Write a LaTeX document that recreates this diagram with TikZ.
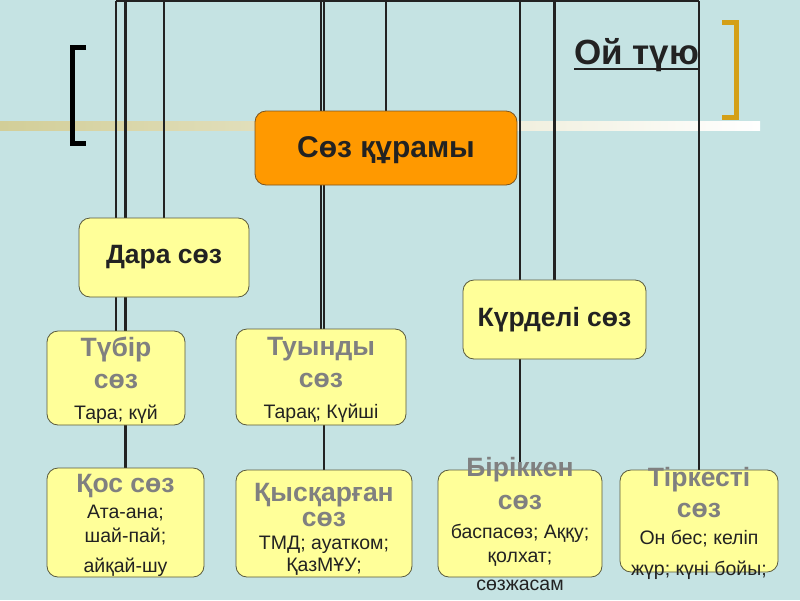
\documentclass[tikz,border=0pt]{standalone}
\usepackage{fontspec}
\setmainfont{Liberation Sans}
\usepackage{xcolor}
\usetikzlibrary{backgrounds}

\definecolor{slidebg}{HTML}{C5E3E3}
\definecolor{boxfill}{HTML}{FFFF99}
\definecolor{boxline}{HTML}{5A5A3C}
\definecolor{rootfill}{HTML}{FF9900}
\definecolor{rootline}{HTML}{7A5420}
\definecolor{titlegray}{HTML}{808080}
\definecolor{inktext}{HTML}{222222}
\definecolor{bandtan}{HTML}{D2CE98}
\definecolor{goldbar}{HTML}{D4A017}

% example lines under the gray titles
\newcommand{\exline}[1]{{\fontsize{19.5}{22}\selectfont\mdseries\color{inktext}#1}}

\begin{document}
\begin{tikzpicture}[x=1pt, y=-1pt,
          wire/.style={draw=inktext, line width=2.2pt},
          box/.style={draw=boxline, fill=boxfill, line width=0.8pt, rounded corners=11pt, inner sep=0pt},
          rootbox/.style={draw=rootline, fill=rootfill, line width=0.8pt, rounded corners=11pt, inner sep=0pt},
          head/.style={font=\bfseries\fontsize{26.5}{30}\selectfont, text=inktext, align=center},
          word/.style={font=\bfseries\fontsize{26.5}{30}\selectfont, text=titlegray, align=center, inner sep=0pt}
        ]
        \useasboundingbox (0,0) rectangle (800,600);

        % Root and middle level
        \node[rootbox, minimum width=262pt, minimum height=74pt] (soz) at (386,148) {};
        \node[head, font=\bfseries\fontsize{30}{34}\selectfont] (soz-t) at ([yshift=-2pt]soz) {Сөз құрамы};
        \node[box, minimum width=170pt, minimum height=79pt] (dara) at (164,257.5) {};
        \node[head] (dara-t) at (dara) {Дара сөз};
        \node[box, minimum width=183pt, minimum height=79pt] (kurdeli) at (554.5,319.5) {};
        \node[head] (kurdeli-t) at (kurdeli) {Күрделі сөз};

        % Third row
        \node[box, minimum width=138pt, minimum height=94pt] (tubir) at (116,378) {};
        \node[word] (tubir-t) at ([yshift=-2pt]tubir) {Түбір\\[2pt]сөз\\[1pt]\exline{Тара; күй}};
        \node[box, minimum width=170pt, minimum height=96pt] (tuyndy) at (321,377) {};
        \node[word] (tuyndy-t) at ([yshift=-3pt]tuyndy) {Туынды\\[2pt]сөз\\[1pt]\exline{Тарақ; Күйші}};

        % Bottom row
        \node[box, minimum width=157pt, minimum height=109pt] (qos) at (125.5,522.5) {};
        \node[word] (qos-t) at ([yshift=-3pt]qos) {Қос сөз\\[-4pt]\exline{Ата-ана;}\\[-6pt]\exline{шай-пай;}\\[0pt]\exline{айқай-шу}};
        \node[box, minimum width=176pt, minimum height=107pt] (qysqa) at (324,523.5) {};
        \node[word] (qysqa-t) at ([yshift=-6pt]qysqa) {Қысқарған\\[-5pt]сөз\\[-7pt]\exline{ТМД; ауатком;}\\[-8pt]\exline{ҚазМҰУ;}};
        \node[box, minimum width=164pt, minimum height=107pt] (birik) at (520,523.5) {};
        \node[word] (birik-t) at (birik) {Біріккен\\[3pt]сөз\\[-1pt]\exline{баспасөз; Аққу;}\\[-6pt]\exline{қолхат;}\\[-2pt]\exline{сөзжасам}};
        \node[box, minimum width=158pt, minimum height=102pt] (tirkes) at (699,521) {};
        \node[word] (tirkes-t) at ([yshift=-2pt]tirkes) {Тіркесті\\[1pt]сөз\\[-3pt]\exline{Он бес; келіп}\\[1pt]\exline{жүр; күні бойы;}};

        % Title in the corner
        \node[font=\bfseries\fontsize{35}{38}\selectfont, text=inktext, inner sep=0pt, anchor=base west] (oitu) at (574,64) {Ой түю};
        \draw[draw=inktext, line width=2.2pt] ([yshift=-5pt]oitu.base west) -- ([yshift=-5pt]oitu.base east);

        \begin{scope}[on background layer]
          \fill[slidebg] (0,0) rectangle (800,600);
          % pale band across the slide
          \shade[left color=bandtan, right color=white] (0,121) rectangle (760,130);
          % brackets
          \draw[line width=5pt] (86,47.5) -- (72.5,47.5) -- (72.5,143.5) -- (86,143.5);
          \draw[goldbar, line width=5pt] (722,22.5) -- (736.5,22.5) -- (736.5,117.5) -- (722,117.5);
          % rail and drops
          \coordinate (rail) at (0,1);
          \draw[wire] (tubir.north |- rail) -- (tirkes.north |- rail);
          \foreach \b in {tubir,qos,dara,tuyndy,qysqa,soz,birik,kurdeli,tirkes}
            \draw[wire] (\b.north |- rail) -- (\b.north);
        \end{scope}
\end{tikzpicture}
\end{document}
